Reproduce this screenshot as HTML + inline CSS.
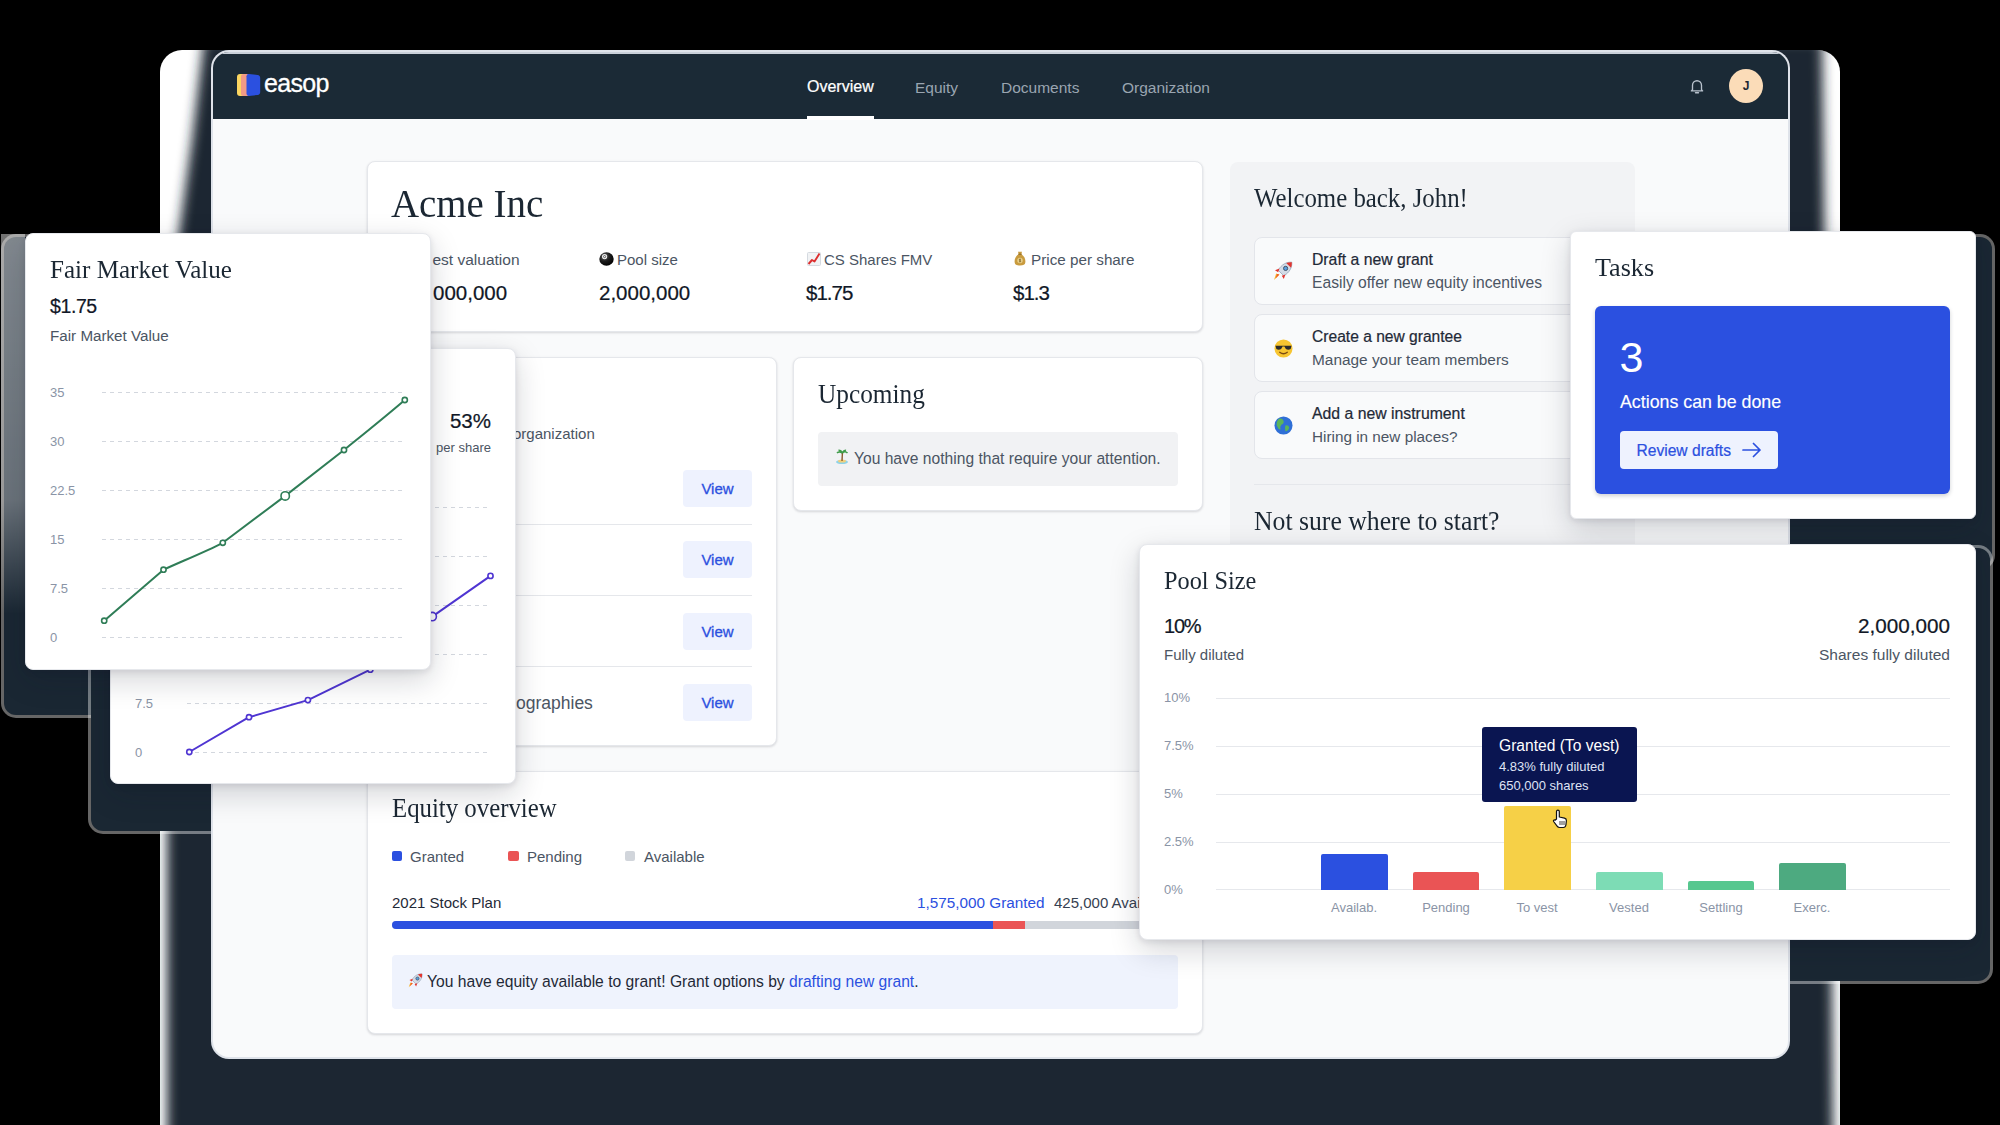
<!DOCTYPE html>
<html>
<head>
<meta charset="utf-8">
<style>
*{box-sizing:border-box;margin:0;padding:0}
html,body{width:2000px;height:1125px;overflow:hidden}
body{background:#000;font-family:"Liberation Sans",sans-serif;color:#111827;position:relative}
.abs{position:absolute}
.serif{font-family:"Liberation Serif",serif;color:#1b2733}
.t{position:absolute;white-space:nowrap;line-height:1}
.card{position:absolute;background:#fff;border:1px solid #e5e7eb;border-radius:8px;box-shadow:0 1px 3px rgba(16,24,40,.10),0 1px 2px rgba(16,24,40,.06)}
.fcard{position:absolute;background:#fff;border:1px solid #e6e8ec;border-radius:8px;box-shadow:0 10px 30px rgba(16,24,40,.18),0 2px 6px rgba(16,24,40,.10)}
.sx{transform-origin:0 50%}
.muted{color:#4b5563}
.lbl{color:#8a94a6}
.view{position:absolute;left:683px;width:69px;height:37px;background:#eef2fe;border-radius:4px;color:#2b50e0;font-size:15px;font-weight:500;text-align:center;line-height:37px;-webkit-text-stroke:.3px #2b50e0}
.wi{left:1041px;width:357px;height:68px;border:1px solid #e3e5ea;border-radius:8px;background:#f9fafb}
.xl{width:100px;text-align:center;font-size:13px}
.nsh{position:absolute;background:#1a2733;border-radius:12px;box-shadow:0 0 0 3px rgba(255,255,255,.4)}
.hr{position:absolute;height:1px;background:#e5e7eb}
.med{-webkit-text-stroke:.22px currentColor}
</style>
</head>
<body>
<!-- outer halo + shadows (alpha-dropped look) -->
<div id="halo" class="abs" style="left:160px;top:50px;width:1680px;height:1100px;background:#fff;border-radius:22px"></div>
<svg class="abs" style="left:0;top:0" width="2000" height="1125" viewBox="0 0 2000 1125">
  <defs>
    <filter id="b6" x="-5%" y="-5%" width="110%" height="110%"><feGaussianBlur stdDeviation="6"/></filter>
    <clipPath id="hc"><rect x="160" y="50" width="1680" height="1100" rx="22"/></clipPath>
  </defs>
  <g clip-path="url(#hc)">
    <polygon points="204,40 1822,40 1829,600 1833,1140 167,1140 167,830 178,240 192,140" fill="#1a2733" filter="url(#b6)"/>
  </g>
</svg>
<!-- card shadows, navy with light fringe -->
<div class="nsh" style="left:4px;top:237px;width:428px;height:478px"></div>
<div class="abs" style="left:1px;top:234px;width:24px;height:380px;background:linear-gradient(to bottom,rgba(255,255,255,.45),rgba(255,255,255,.35) 70%,rgba(255,255,255,0))"></div>
<div class="nsh" style="left:91px;top:360px;width:440px;height:471px"></div>
<div class="nsh" style="left:1552px;top:237px;width:440px;height:330px"></div>
<div class="nsh" style="left:1120px;top:548px;width:870px;height:433px"></div>
<!-- main window -->
<div id="win" class="abs" style="left:211px;top:50px;width:1579px;height:1009px;border-radius:18px;background:#dfe3ea"></div>
<div id="winin" class="abs" style="left:213px;top:52px;width:1575px;height:1005px;border-radius:16px;background:#f9fafb;overflow:hidden">
  <div id="hdr" class="abs" style="left:0;top:0;width:1575px;height:67px;background:#1b2a36">
    <div class="abs" style="left:0;top:0;width:1575px;height:1.5px;background:#c9d0d9"></div>
    <!-- logo -->
    <svg class="abs" style="left:24px;top:21px" width="24" height="24" viewBox="0 0 24 24">
      <rect x="0" y="1" width="9" height="22" rx="3" fill="#fbd560"/>
      <rect x="4" y="1" width="9" height="22" rx="2.5" fill="#f19a86"/>
      <path d="M9.5 3.2 Q9.5 1 11.8 1.1 L20.5 1.9 Q23.2 2.2 23.2 5 V19 Q23.2 21.6 20.5 22 L11.8 22.9 Q9.5 23 9.5 20.8 Z" fill="#2b50e0"/>
    </svg>
    <div class="t" style="left:51px;top:19px;font-size:25px;letter-spacing:-.7px;color:#fff;-webkit-text-stroke:.3px #fff">easop</div>
    <div class="t med" style="left:594px;top:27.3px;font-size:16px;color:#fff">Overview</div>
    <div class="t" style="left:702px;top:27.5px;font-size:15.5px;color:#9aa5b1">Equity</div>
    <div class="t" style="left:788px;top:27.5px;font-size:15.5px;color:#9aa5b1">Documents</div>
    <div class="t" style="left:909px;top:27.5px;font-size:15.5px;color:#9aa5b1">Organization</div>
    <div class="abs" style="left:594px;top:64px;width:67px;height:4px;background:#fff"></div>
    <svg class="abs" style="left:1475px;top:25px" width="18" height="18" viewBox="0 0 24 24" fill="none" stroke="#b8c1cc" stroke-width="1.8" stroke-linecap="round" stroke-linejoin="round"><path d="M6 17V11a6 6 0 0 1 12 0v6l1.5 1.5h-15z"/><path d="M10 21h4"/></svg>
    <div class="abs" style="left:1516px;top:17px;width:34px;height:34px;border-radius:50%;background:#fbdcb8;color:#1b2733;font-size:12px;text-align:center;line-height:34px;font-weight:bold">J</div>
  </div>
  <!-- Acme card -->
  <div class="card" style="left:154px;top:109px;width:836px;height:171px"></div>
  <div class="t serif sx" style="left:178px;top:131.5px;font-size:40px;transform:scaleX(.972)">Acme Inc</div>
  <div class="t muted" style="left:219.5px;top:200px;font-size:15.5px">est valuation</div>
  <div class="t med" style="left:220px;top:231px;font-size:20.5px">000,000</div>
  <div class="t muted" style="left:404px;top:200px;font-size:15px">Pool size</div>
  <div class="t med" style="left:386px;top:231px;font-size:20.5px">2,000,000</div>
  <div class="t muted" style="left:611px;top:200px;font-size:15px">CS Shares FMV</div>
  <div class="t med" style="left:593px;top:231px;font-size:20.5px;letter-spacing:-1px">$1.75</div>
  <div class="t muted" style="left:818px;top:200px;font-size:15.25px">Price per share</div>
  <div class="t med" style="left:800px;top:231px;font-size:20.5px;letter-spacing:-1px">$1.3</div>
  <!-- emoji stand-ins -->
  <svg class="abs" style="left:385.5px;top:199.5px" width="15" height="14" viewBox="0 0 15 14"><defs><radialGradient id="g8" cx="35%" cy="30%" r="75%"><stop offset="0" stop-color="#666"/><stop offset=".5" stop-color="#1c1c1c"/><stop offset="1" stop-color="#000"/></radialGradient></defs><ellipse cx="7.5" cy="7" rx="7.2" ry="6.7" fill="url(#g8)"/><circle cx="5.6" cy="4.6" r="2.6" fill="#f2f2f2"/><circle cx="5.6" cy="4.6" r="1.1" fill="none" stroke="#333" stroke-width=".7"/></svg>
  <svg class="abs" style="left:593.5px;top:200px" width="14" height="14" viewBox="0 0 14 14"><rect x=".5" y=".5" width="13" height="13" rx="1" fill="#f1f3f5" stroke="#d5dae0"/><path d="M1.5 12 L5 8 L7.5 9.5 L12.5 1.500" stroke="#dc2f2f" stroke-width="1.9" fill="none" stroke-linejoin="round"/></svg>
  <svg class="abs" style="left:801px;top:199px" width="12" height="15" viewBox="0 0 12 15"><path d="M4 0.800 L8 0.800 L7.300 3.200 C10.500 5 11.800 8.500 11.300 11.500 C11 13.800 9.500 14.500 6 14.500 C2.500 14.500 1 13.800 .7 11.500 C.2 8.500 1.500 5 4.700 3.200 Z" fill="#c99b3e"/><path d="M4.300 3.200 H7.700" stroke="#8a6420" stroke-width="1"/><circle cx="6" cy="9.500" r="2.700" fill="#e9d08a"/><path d="M6 7.600 V11.400 M7 8.500 Q6 7.900 5.200 8.600 Q5 9.400 6 9.500 Q7 9.700 6.800 10.400 Q6 11.100 5 10.500" stroke="#7a5a1c" stroke-width=".6" fill="none"/></svg>
  <!-- left list card -->
  <div class="card" style="left:154px;top:305px;width:410px;height:389px"></div>
  <div class="t muted" style="left:300px;top:374px;font-size:15px">organization</div>
  <div class="view" style="left:470px;top:418px">View</div>
  <div class="hr" style="left:178px;top:472px;width:361px"></div>
  <div class="view" style="left:470px;top:489px">View</div>
  <div class="hr" style="left:178px;top:543px;width:361px"></div>
  <div class="view" style="left:470px;top:561px">View</div>
  <div class="hr" style="left:178px;top:614px;width:361px"></div>
  <div class="view" style="left:470px;top:632px">View</div>
  <div class="t muted" style="left:303px;top:642.5px;font-size:17.5px">ographies</div>
  <!-- upcoming -->
  <div class="card" style="left:580px;top:305px;width:410px;height:154px"></div>
  <div class="t serif sx" style="left:605px;top:328.6px;font-size:27px;transform:scaleX(.937)">Upcoming</div>
  <div class="abs" style="left:605px;top:380px;width:360px;height:54px;border-radius:4px;background:#f1f2f4"></div>
  <div class="t muted" style="left:641px;top:399px;font-size:15.62px">You have nothing that require your attention.</div>
  <svg class="abs" style="left:622px;top:397px" width="14" height="15" viewBox="0 0 14 15"><ellipse cx="7" cy="13" rx="6" ry="2" fill="#8fd3e8"/><ellipse cx="7" cy="12" rx="4" ry="1.6" fill="#f1cf7a"/><path d="M7 12 L7.4 4" stroke="#8a5a2b" stroke-width="1.4"/><path d="M7.4 4 Q4 2 2 4 M7.4 4 Q10 1.5 12.5 4 M7.4 4 Q6 1 3.5 1.2 M7.4 4 Q9 1 11 1.5" stroke="#3f9c4a" stroke-width="1.6" fill="none"/></svg>
  <!-- equity overview -->
  <div class="card" style="left:154px;top:719px;width:836px;height:263px"></div>
  <div class="t serif sx" style="left:179px;top:742.6px;font-size:27px;transform:scaleX(.919)">Equity overview</div>
  <div class="abs" style="left:179px;top:799px;width:10px;height:10px;border-radius:2px;background:#2b50e0"></div>
  <div class="t muted" style="left:197px;top:797px;font-size:15px">Granted</div>
  <div class="abs" style="left:295px;top:799px;width:11px;height:10px;border-radius:2px;background:#ea5455"></div>
  <div class="t muted" style="left:314px;top:797px;font-size:15px">Pending</div>
  <div class="abs" style="left:412px;top:799px;width:10px;height:10px;border-radius:2px;background:#d1d5db"></div>
  <div class="t muted" style="left:431px;top:797px;font-size:15px">Available</div>
  <div class="t" style="left:179px;top:843px;font-size:15px;color:#1f2937">2021 Stock Plan</div>
  <div class="t" style="left:704px;top:843px;font-size:15.3px;color:#2b50e0">1,575,000 Granted</div>
  <div class="t" style="left:841px;top:843px;font-size:15px;color:#374151">425,000 Available</div>
  <div class="abs" style="left:179px;top:869px;width:786px;height:8px;border-radius:4px;background:#d1d5db;overflow:hidden"><div class="abs" style="left:0;top:0;width:601px;height:8px;background:#2b50e0"></div><div class="abs" style="left:601px;top:0;width:32px;height:8px;background:#ea5455"></div></div>
  <div class="abs" style="left:179px;top:903px;width:786px;height:54px;border-radius:4px;background:#eff3fd"></div>
  <div class="t" style="left:214px;top:922px;font-size:15.65px;color:#1f2937">You have equity available to grant! Grant options by <span style="color:#2b50e0">drafting new grant</span>.</div>
  <svg class="abs rocket" style="left:195px;top:921px" width="15" height="15" viewBox="0 0 20 20"><path d="M6.200 13.800 L1 19 L3.200 12.500 Z" fill="#f7b52c"/><path d="M6.500 13.500 L2.500 17.500 L4.200 13 Z" fill="#f15a24"/><path d="M18.800 1.200 C13.500 .8 8.500 3.500 5.200 9.200 L10.800 14.800 C16.500 11.500 19.200 6.500 18.800 1.200Z" fill="#d3dbe6" stroke="#93a3b8" stroke-width=".8"/><path d="M18.800 1.200 C16.800 1.050 14.900 1.350 13.200 2 L18 6.800 C18.650 5.100 18.950 3.200 18.800 1.200Z" fill="#e2352f"/><circle cx="12.600" cy="7.400" r="2.100" fill="#5aa0e0" stroke="#3b4a5c" stroke-width=".9"/><path d="M6.400 7.600 L2 9.200 L5.200 11.200Z M12.400 13.600 L10.800 18 L8.800 14.800Z" fill="#e2352f"/></svg>
  <!-- welcome panel -->
  <div class="abs" style="left:1017px;top:110px;width:405px;height:600px;border-radius:8px;background:#f2f3f5"></div>
  <div class="t serif sx" style="left:1041px;top:133px;font-size:27px;transform:scaleX(.92)">Welcome back, John!</div>
  <div class="abs wi" style="top:185px"></div>
  <div class="abs wi" style="top:262px"></div>
  <div class="abs wi" style="top:339px"></div>
  <div class="t med" style="left:1099px;top:200px;font-size:15.75px;color:#1f2937">Draft a new grant</div>
  <div class="t muted" style="left:1099px;top:223px;font-size:15.65px">Easily offer new equity incentives</div>
  <div class="t med" style="left:1099px;top:277px;font-size:15.6px;color:#1f2937">Create a new grantee</div>
  <div class="t muted" style="left:1099px;top:300px;font-size:15.4px">Manage your team members</div>
  <div class="t med" style="left:1099px;top:354px;font-size:15.8px;color:#1f2937">Add a new instrument</div>
  <div class="t muted" style="left:1099px;top:377px;font-size:15.3px">Hiring in new places?</div>
  <svg class="abs" style="left:1060px;top:209px" width="20" height="20" viewBox="0 0 20 20"><path d="M6.200 13.800 L1 19 L3.200 12.500 Z" fill="#f7b52c"/><path d="M6.500 13.500 L2.500 17.500 L4.200 13 Z" fill="#f15a24"/><path d="M18.800 1.200 C13.500 .8 8.500 3.500 5.200 9.200 L10.800 14.800 C16.500 11.500 19.200 6.500 18.800 1.200Z" fill="#d3dbe6" stroke="#93a3b8" stroke-width=".8"/><path d="M18.800 1.200 C16.800 1.050 14.900 1.350 13.200 2 L18 6.800 C18.650 5.100 18.950 3.200 18.800 1.200Z" fill="#e2352f"/><circle cx="12.600" cy="7.400" r="2.100" fill="#5aa0e0" stroke="#3b4a5c" stroke-width=".9"/><path d="M6.400 7.600 L2 9.200 L5.200 11.200Z M12.400 13.600 L10.800 18 L8.800 14.800Z" fill="#e2352f"/></svg>
  <svg class="abs" style="left:1061px;top:287px" width="19" height="19" viewBox="0 0 20 20"><circle cx="10" cy="10" r="9.5" fill="#f7c531"/><path d="M1.5 7 H18.5 L17.5 10.5 Q15 12 12.5 10.5 L11 8 H9 L7.5 10.5 Q5 12 2.5 10.5Z" fill="#2b2b2b"/><path d="M6 14 Q10 17 14 14" stroke="#7a4a12" stroke-width="1.4" fill="none" stroke-linecap="round"/></svg>
  <svg class="abs" style="left:1061px;top:364px" width="19" height="19" viewBox="0 0 20 20"><circle cx="10" cy="10" r="9.5" fill="#2f6fd6"/><path d="M5 3 Q9 2 10 5 Q11 8 8 9 Q6 11 7 14 Q5 15 4 12 Q2 9 3 6Z" fill="#5bb55a"/><path d="M12 10 Q15 9 16 12 Q15 16 12 16 Q11 13 12 10Z" fill="#5bb55a"/></svg>
  <div class="hr" style="left:1041px;top:432px;width:357px"></div>
  <div class="t serif sx" style="left:1041px;top:455.6px;font-size:27px;transform:scaleX(.952)">Not sure where to start?</div>
</div>

<!-- second chart card (purple) -->
<div class="fcard" style="left:110px;top:348px;width:406px;height:436px"></div>
<div class="t med" style="left:391px;top:411px;width:100px;text-align:right;font-size:20.5px">53%</div>
<div class="t muted" style="left:391px;top:441px;width:100px;text-align:right;font-size:13px">per share</div>
<svg class="abs" style="left:110px;top:348px" width="406" height="436" viewBox="110 348 406 436">
  <g stroke="#d3d7de" stroke-width="1" stroke-dasharray="4 4" fill="none">
    <path d="M187 507.5H491M187 556.5H491M187 605.5H491M187 654.5H491M187 703.5H491M187 752.5H491"/>
  </g>
  <path d="M189.3 752 L249 717.2 L307.9 700.1 L370.3 669.7 L432.2 616.6 L490.5 575.9" stroke="#4f35d2" stroke-width="2" fill="none" stroke-linejoin="round"/>
  <g fill="#fff" stroke="#4f35d2" stroke-width="1.6"><circle cx="189.3" cy="752" r="2.6"/><circle cx="249" cy="717.2" r="2.6"/><circle cx="307.9" cy="700.1" r="2.6"/><circle cx="370.3" cy="669.7" r="2.6"/><circle cx="432.2" cy="616.6" r="4.2"/><circle cx="490.5" cy="575.9" r="2.6"/></g>
</svg>
<div class="t lbl" style="left:135px;top:697px;font-size:13px">7.5</div>
<div class="t lbl" style="left:135px;top:746px;font-size:13px">0</div>

<!-- FMV card -->
<div class="fcard" style="left:25px;top:233px;width:406px;height:437px"></div>
<div class="t serif sx" style="left:50px;top:257.3px;font-size:25px;transform:scaleX(1.003)">Fair Market Value</div>
<div class="t med" style="left:50px;top:297.2px;font-size:19.5px;letter-spacing:-.4px">$1.75</div>
<div class="t muted" style="left:50px;top:328px;font-size:15.2px">Fair Market Value</div>
<svg class="abs" style="left:25px;top:233px" width="406" height="437" viewBox="25 233 406 437">
  <g stroke="#d3d7de" stroke-width="1" stroke-dasharray="4 4" fill="none">
    <path d="M102 392.5H406M102 441.5H406M102 490.5H406M102 539.5H406M102 588.5H406M102 637.5H406"/>
  </g>
  <path d="M104.2 620.7 L163.5 569.7 C180 562 205 552 222.8 542.8 L285.2 495.9 L344 450 C365 433 385 417 404.8 400" stroke="#2f7d57" stroke-width="2" fill="none" stroke-linejoin="round"/>
  <g fill="#fff" stroke="#2f7d57" stroke-width="1.6"><circle cx="104.2" cy="620.7" r="2.6"/><circle cx="163.5" cy="569.7" r="2.6"/><circle cx="222.8" cy="542.8" r="2.6"/><circle cx="285.2" cy="495.9" r="4.2"/><circle cx="344" cy="450" r="2.6"/><circle cx="404.8" cy="400" r="2.6"/></g>
</svg>
<div class="t lbl" style="left:50px;top:386px;font-size:13px">35</div>
<div class="t lbl" style="left:50px;top:435px;font-size:13px">30</div>
<div class="t lbl" style="left:50px;top:484px;font-size:13px">22.5</div>
<div class="t lbl" style="left:50px;top:533px;font-size:13px">15</div>
<div class="t lbl" style="left:50px;top:582px;font-size:13px">7.5</div>
<div class="t lbl" style="left:50px;top:631px;font-size:13px">0</div>

<!-- Tasks card -->
<div class="fcard" style="left:1570px;top:231px;width:406px;height:288px;border-radius:6px"></div>
<div class="t serif sx" style="left:1595px;top:255px;font-size:25px;transform:scaleX(1.044)">Tasks</div>
<div class="abs" style="left:1595px;top:306px;width:355px;height:188px;border-radius:6px;background:#2b50e0;box-shadow:0 2px 4px rgba(16,24,40,.2)"></div>
<div class="t" style="left:1619.5px;top:336px;font-size:43px;color:#fff">3</div>
<div class="t" style="left:1620px;top:393.8px;font-size:17.8px;color:#fff;-webkit-text-stroke:.15px #fff">Actions can be done</div>
<div class="abs" style="left:1620px;top:431px;width:158px;height:38px;border-radius:4px;background:#eef2fe"></div>
<div class="t med" style="left:1636.5px;top:442.8px;font-size:15.6px;color:#2b50e0">Review drafts</div>
<svg class="abs" style="left:1742px;top:442px" width="19" height="16" viewBox="0 0 19 16" fill="none" stroke="#2b50e0" stroke-width="1.7" stroke-linecap="round" stroke-linejoin="round"><path d="M1 8H18M11.5 1.5L18 8L11.5 14.5"/></svg>

<!-- Pool size card -->
<div class="fcard" style="left:1139px;top:544px;width:837px;height:396px"></div>
<div class="t serif sx" style="left:1164px;top:567.5px;font-size:25px;transform:scaleX(.971)">Pool Size</div>
<div class="t med" style="left:1164px;top:616px;font-size:20px;letter-spacing:-1.2px">10%</div>
<div class="t muted" style="left:1164px;top:647px;font-size:15px">Fully diluted</div>
<div class="t med" style="left:1650px;top:616px;width:300px;text-align:right;font-size:20.7px">2,000,000</div>
<div class="t muted" style="left:1650px;top:647px;width:300px;text-align:right;font-size:15.5px">Shares fully diluted</div>
<div class="hr" style="left:1216px;top:698px;width:734px;background:#e6e8ec"></div>
<div class="hr" style="left:1216px;top:746px;width:734px;background:#e6e8ec"></div>
<div class="hr" style="left:1216px;top:794px;width:734px;background:#e6e8ec"></div>
<div class="hr" style="left:1216px;top:842px;width:734px;background:#e6e8ec"></div>
<div class="hr" style="left:1216px;top:889px;width:734px;background:#e6e8ec"></div>
<div class="t lbl" style="left:1164px;top:691px;font-size:13px">10%</div>
<div class="t lbl" style="left:1164px;top:739px;font-size:13px">7.5%</div>
<div class="t lbl" style="left:1164px;top:787px;font-size:13px">5%</div>
<div class="t lbl" style="left:1164px;top:835px;font-size:13px">2.5%</div>
<div class="t lbl" style="left:1164px;top:883px;font-size:13px">0%</div>
<div class="abs" style="left:1321px;top:854px;width:67px;height:36px;background:#2b50e0;border-radius:2px 2px 0 0"></div>
<div class="abs" style="left:1413px;top:872px;width:66px;height:18px;background:#ea5455;border-radius:2px 2px 0 0"></div>
<div class="abs" style="left:1504px;top:806px;width:67px;height:84px;background:#f6d047;border-radius:2px 2px 0 0"></div>
<div class="abs" style="left:1596px;top:872px;width:67px;height:18px;background:#7ddcb5;border-radius:2px 2px 0 0"></div>
<div class="abs" style="left:1688px;top:881px;width:66px;height:9px;background:#57c78f;border-radius:2px 2px 0 0"></div>
<div class="abs" style="left:1779px;top:863px;width:67px;height:27px;background:#4daa80;border-radius:2px 2px 0 0"></div>
<div class="t lbl xl" style="left:1304px;top:901px">Availab.</div>
<div class="t lbl xl" style="left:1396px;top:901px">Pending</div>
<div class="t lbl xl" style="left:1487px;top:901px">To vest</div>
<div class="t lbl xl" style="left:1579px;top:901px">Vested</div>
<div class="t lbl xl" style="left:1671px;top:901px">Settling</div>
<div class="t lbl xl" style="left:1762px;top:901px">Exerc.</div>
<div class="abs" style="left:1482px;top:727px;width:155px;height:75px;border-radius:3px;background:#0a1551"></div>
<div class="t" style="left:1499px;top:738px;font-size:15.6px;color:#fff">Granted (To vest)</div>
<div class="t" style="left:1499px;top:760px;font-size:13px;color:#dfe3f5">4.83% fully diluted</div>
<div class="t" style="left:1499px;top:779px;font-size:13px;color:#dfe3f5">650,000 shares</div>
<svg class="abs" style="left:1552px;top:809px" width="16" height="20" viewBox="0 0 16 20"><path d="M4.5 10V2.6a1.4 1.4 0 0 1 2.8 0V8l5.2 1.1c1.3.3 2 1.200 1.900 2.500l-.5 4.400c-.2 1.300-1.200 2.500-2.600 2.500H7.500c-1 0-1.800-.5-2.400-1.300L1.600 12.500c-.6-.9.500-2 1.500-1.300Z" fill="#fff" stroke="#111" stroke-width="1.2" stroke-linejoin="round"/><path d="M8 12v4M10 12v4M12 12v4" stroke="#111" stroke-width=".8"/></svg>

</body>
</html>
